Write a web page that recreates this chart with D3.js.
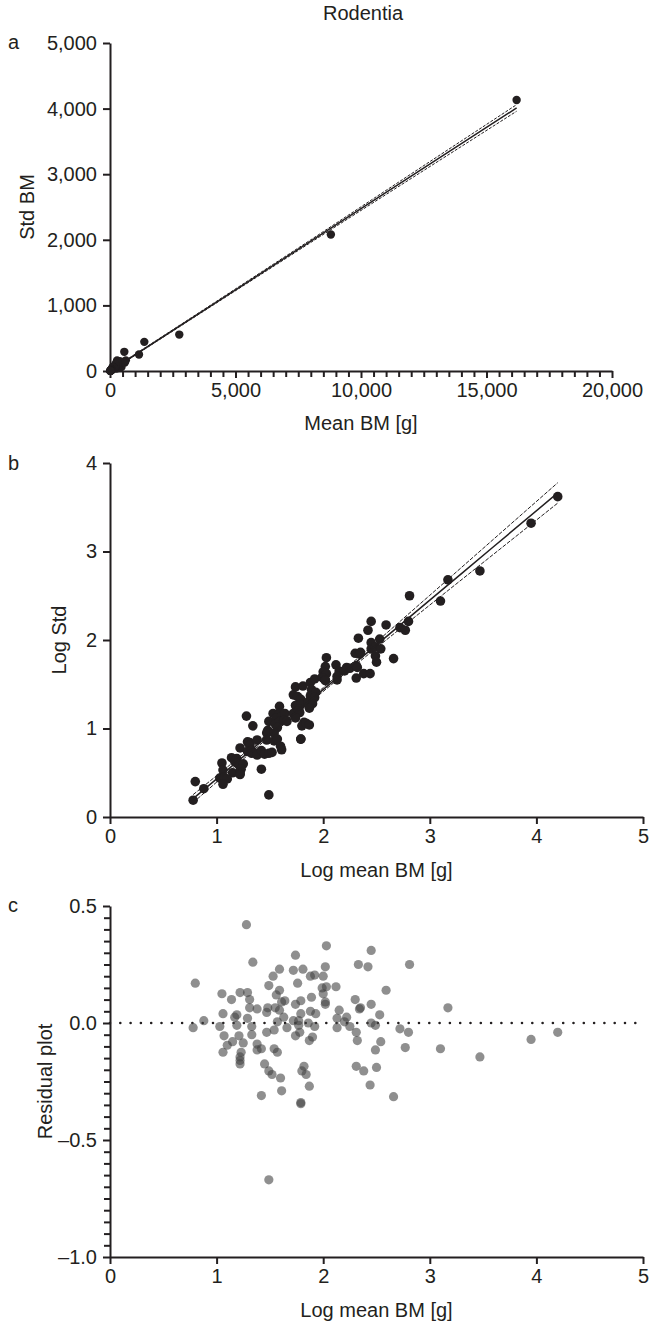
<!DOCTYPE html>
<html><head><meta charset="utf-8">
<script src="https://cdn.jsdelivr.net/npm/d3@7"></script>
<style>
body{margin:0;background:#fff}
text{font-family:"Liberation Sans",Arial,sans-serif;fill:#231f20}
</style>
</head><body>
<svg id="chart" width="652" height="1332"></svg>
<script>
// ---------- DATA ----------
const title = "Rodentia";
// Panel a: raw body mass
const aMean = [16200, 8800, 2760, 1367, 1155, 570, 631, 589, 525, 457, 389, 347, 339, 316, 309, 282, 282, 275, 263, 240, 224, 219, 214, 209, 204, 200, 178, 166, 158, 141, 135, 132, 107, 105, 90, 75, 70, 60, 55, 50, 45, 40, 35, 30, 25, 20, 15, 10, 8, 6];
const aStd  = [4130, 2080, 555, 444, 252, 292, 162, 129, 138, 62, 148, 79, 102, 56, 83, 162, 93, 42, 129, 42, 72, 69, 105, 49, 51, 71, 48, 49, 45, 45, 39, 52, 63, 50, 30, 25, 16, 20, 18, 15, 9, 12, 10, 8, 6, 5, 4, 2, 2, 1.5];
const aFitX     = [0, 4000, 8000, 12000, 16200];
const aFit      = [0, 990, 1980, 2970, 4010];
const aFitUpper = [6, 1002, 2000, 3005, 4060];
const aFitLower = [-6, 978, 1960, 2935, 3960];
const aXTicks = [0, 5000, 10000, 15000, 20000];
const aYTicks = [0, 1000, 2000, 3000, 4000, 5000];

// Panels b and c: log data and residuals
const logMean = [1.28,2.03,2.45,1.74,1.34,2.33,2.42,2.81,2.02,1.59,1.72,1.81,1.53,1.88,1.92,2.00,0.80,1.76,1.49,1.99,2.03,2.12,1.59,2.59,1.05,1.22,1.29,2.00,1.56,1.89,1.14,1.31,2.30,1.61,1.64,1.79,2.02,1.74,2.02,2.45,3.17,1.31,1.38,1.48,1.55,2.15,2.34,2.35,1.88,1.59,1.06,1.19,1.47,1.93,1.79,2.53,1.17,1.29,1.63,2.13,2.22,0.88,1.72,1.77,1.57,1.86,2.20,2.45,0.78,1.03,1.19,1.33,1.54,1.66,1.77,1.92,2.13,2.25,2.49,2.72,1.47,1.33,1.78,1.74,2.31,2.80,4.20,1.07,1.21,1.90,2.32,3.95,1.15,1.25,1.87,2.54,1.10,1.38,1.06,1.38,1.42,1.54,1.57,2.49,2.77,3.10,1.23,1.22,1.22,1.22,3.47,1.45,1.49,1.52,1.60,1.82,1.80,1.84,2.31,2.38,2.50,1.87,2.44,1.61,1.42,2.66,1.79,1.79,1.49];
const logStd  = [1.14,1.80,2.21,1.47,1.03,2.02,2.11,2.50,1.70,1.25,1.38,1.48,1.17,1.52,1.56,1.64,0.40,1.36,1.08,1.58,1.62,1.72,1.17,2.17,0.61,0.78,0.85,1.57,1.12,1.44,0.67,0.84,1.85,1.14,1.17,1.33,1.55,1.26,1.54,1.97,2.68,0.81,0.87,0.98,1.05,1.65,1.84,1.86,1.37,1.08,0.53,0.66,0.95,1.41,1.27,2.01,0.63,0.74,1.09,1.59,1.69,0.32,1.17,1.22,1.01,1.30,1.65,1.90,0.19,0.44,0.61,0.75,0.95,1.08,1.20,1.35,1.55,1.68,1.92,2.14,0.87,0.72,1.18,1.12,1.71,2.21,3.62,0.45,0.59,1.28,1.69,3.32,0.50,0.60,1.23,1.90,0.43,0.72,0.37,0.70,0.75,0.86,0.88,1.82,2.11,2.44,0.54,0.51,0.49,0.48,2.78,0.71,0.72,0.73,0.80,1.07,1.03,1.06,1.57,1.62,1.75,1.04,1.62,0.76,0.54,1.79,0.88,0.88,0.25];
const residual = [0.42,0.33,0.31,0.29,0.26,0.25,0.24,0.25,0.24,0.23,0.225,0.23,0.20,0.20,0.205,0.20,0.17,0.17,0.16,0.15,0.155,0.155,0.14,0.14,0.125,0.13,0.13,0.125,0.12,0.11,0.10,0.10,0.10,0.09,0.095,0.095,0.09,0.08,0.08,0.08,0.065,0.065,0.06,0.065,0.065,0.055,0.06,0.065,0.05,0.055,0.04,0.035,0.045,0.04,0.04,0.035,0.025,0.02,0.025,0.02,0.025,0.01,0.01,0.01,0.005,0.0,0.005,0.0,-0.02,-0.015,-0.01,-0.015,-0.03,-0.02,-0.01,-0.015,-0.02,-0.015,-0.01,-0.025,-0.04,-0.05,-0.04,-0.055,-0.04,-0.04,-0.04,-0.055,-0.055,-0.06,-0.075,-0.07,-0.08,-0.085,-0.075,-0.08,-0.095,-0.09,-0.125,-0.115,-0.11,-0.11,-0.125,-0.115,-0.105,-0.11,-0.125,-0.145,-0.16,-0.175,-0.145,-0.175,-0.205,-0.22,-0.235,-0.185,-0.205,-0.22,-0.185,-0.205,-0.19,-0.27,-0.265,-0.29,-0.31,-0.315,-0.34,-0.345,-0.67];
const bFitX     = [0.78, 1.2, 1.8, 2.4, 3.0, 3.6, 4.2];
const bFit      = [0.208, 0.632, 1.238, 1.844, 2.45, 3.056, 3.662];
const bFitUpper = [0.253, 0.662, 1.258, 1.874, 2.505, 3.141, 3.777];
const bFitLower = [0.163, 0.602, 1.218, 1.814, 2.395, 2.971, 3.547];
const bXTicks = [0, 1, 2, 3, 4, 5];
const bYTicks = [0, 1, 2, 3, 4];
const cYTicks = [-1.0, -0.5, 0.0, 0.5];

// ---------- DRAW ----------
const svg = d3.select("#chart");
const INK = "#231f20";
const FS = 20;

function styleAxis(g){
  g.selectAll("path.domain").attr("stroke", INK).attr("stroke-width", 2);
  g.selectAll(".tick line").attr("stroke", INK).attr("stroke-width", 2);
  g.selectAll(".tick text").attr("font-size", FS).attr("fill", INK)
    .attr("font-family", '"Liberation Sans", Arial, sans-serif');
}
function minor(g, axisFn, scale, vals, size){
  const gg = g.append("g").call(axisFn(scale).tickValues(vals).tickSize(size).tickFormat(""));
  gg.select("path.domain").remove();
  gg.selectAll(".tick line").attr("stroke", INK).attr("stroke-width", 2);
}
function label(x, y, txt, rot){
  const t = svg.append("text").attr("font-size", FS).attr("text-anchor", "middle").text(txt);
  if (rot) t.attr("transform", `translate(${x},${y}) rotate(-90)`);
  else t.attr("x", x).attr("y", y);
  return t;
}
const minus = d3.formatLocale({decimal: ".", thousands: ",", grouping: [3], currency: ["", ""], minus: "\u2013"});

// Panel a
{
  const L = 110, R = 612, T = 43, B = 371;
  const x = d3.scaleLinear().domain([0, 20000]).range([L, R]);
  const y = d3.scaleLinear().domain([0, 5000]).range([B, T]);
  const gx = svg.append("g").attr("transform", `translate(0,${B})`);
  gx.call(d3.axisBottom(x).tickValues(aXTicks).tickSize(7).tickSizeOuter(0).tickPadding(5).tickFormat(d3.format(",")));
  styleAxis(gx);
  minor(gx, d3.axisBottom, x, d3.range(500, 20000, 500).filter(v => v % 5000 !== 0), 6);
  const gy = svg.append("g").attr("transform", `translate(${L},0)`);
  gy.call(d3.axisLeft(y).tickValues(aYTicks).tickSize(7).tickSizeOuter(0).tickPadding(6).tickFormat(d3.format(",")));
  styleAxis(gy);

  const line = d3.line().x((d, i) => x(aFitX[i])).y(d => y(d));
  svg.append("path").attr("d", line(aFitUpper)).attr("fill", "none").attr("stroke", INK).attr("stroke-width", 1).attr("stroke-dasharray", "3,1.5");
  svg.append("path").attr("d", line(aFitLower)).attr("fill", "none").attr("stroke", INK).attr("stroke-width", 1).attr("stroke-dasharray", "3,1.5");
  svg.append("path").attr("d", line(aFit)).attr("fill", "none").attr("stroke", INK).attr("stroke-width", 1.5);

  svg.append("g").selectAll("circle").data(aMean).join("circle")
    .attr("cx", d => x(d)).attr("cy", (d, i) => y(aStd[i])).attr("r", 4.2).attr("fill", INK);

  label(363, 20, title);
  svg.append("text").attr("x", 8).attr("y", 49).attr("font-size", FS).text("a");
  label(34, (T + B) / 2, "Std BM", true);
  label((L + R) / 2, 430, "Mean BM [g]");
}

// Panel b
{
  const L = 110, R = 643, T = 463, B = 817;
  const x = d3.scaleLinear().domain([0, 5]).range([L, R]);
  const y = d3.scaleLinear().domain([0, 4]).range([B, T]);
  const gx = svg.append("g").attr("transform", `translate(0,${B})`);
  gx.call(d3.axisBottom(x).tickValues(bXTicks).tickSize(7).tickSizeOuter(0).tickPadding(5).tickFormat(d3.format("d")));
  styleAxis(gx);
  const gy = svg.append("g").attr("transform", `translate(${L},0)`);
  gy.call(d3.axisLeft(y).tickValues(bYTicks).tickSize(7).tickSizeOuter(0).tickPadding(6).tickFormat(d3.format("d")));
  styleAxis(gy);

  svg.append("g").selectAll("circle").data(logMean).join("circle")
    .attr("cx", d => x(d)).attr("cy", (d, i) => y(logStd[i])).attr("r", 4.8).attr("fill", INK);

  const line = d3.line().x((d, i) => x(bFitX[i])).y(d => y(d)).curve(d3.curveMonotoneX);
  svg.append("path").attr("d", line(bFitUpper)).attr("fill", "none").attr("stroke", INK).attr("stroke-width", 1).attr("stroke-dasharray", "4,1.5");
  svg.append("path").attr("d", line(bFitLower)).attr("fill", "none").attr("stroke", INK).attr("stroke-width", 1).attr("stroke-dasharray", "4,1.5");
  svg.append("path").attr("d", line(bFit)).attr("fill", "none").attr("stroke", INK).attr("stroke-width", 1.5);

  svg.append("text").attr("x", 8).attr("y", 470).attr("font-size", FS).text("b");
  label(66, (T + B) / 2, "Log Std", true);
  label((L + R) / 2, 877, "Log mean BM [g]");
}

// Panel c
{
  const L = 110, R = 643, T = 906, B = 1257;
  const x = d3.scaleLinear().domain([0, 5]).range([L, R]);
  const y = d3.scaleLinear().domain([-1, 0.5]).range([B, T]);
  const gx = svg.append("g").attr("transform", `translate(0,${B})`);
  gx.call(d3.axisBottom(x).tickValues(bXTicks).tickSize(7).tickSizeOuter(0).tickPadding(5).tickFormat(d3.format("d")));
  styleAxis(gx);
  const gy = svg.append("g").attr("transform", `translate(${L},0)`);
  gy.call(d3.axisLeft(y).tickValues(cYTicks).tickSize(7).tickSizeOuter(0).tickPadding(6).tickFormat(minus.format(".1f")));
  styleAxis(gy);
  minor(gy, d3.axisLeft, y, d3.range(-19, 10).map(k => k * 0.05).filter(v => Math.abs(v * 2 - Math.round(v * 2)) > 1e-6), 6);

  svg.append("line").attr("x1", x(0)).attr("x2", x(5)).attr("y1", y(0)).attr("y2", y(0))
    .attr("stroke", INK).attr("stroke-width", 2.6).attr("stroke-linecap", "round").attr("stroke-dasharray", "0,10.3");

  svg.append("g").selectAll("circle").data(logMean).join("circle")
    .attr("cx", d => x(d)).attr("cy", (d, i) => y(residual[i])).attr("r", 4.6)
    .attr("fill", "#444").attr("fill-opacity", 0.6);

  svg.append("text").attr("x", 8).attr("y", 912).attr("font-size", FS).text("c");
  label(52, (T + B) / 2, "Residual plot", true);
  label((L + R) / 2, 1317, "Log mean BM [g]");
}
</script>
</body></html>
